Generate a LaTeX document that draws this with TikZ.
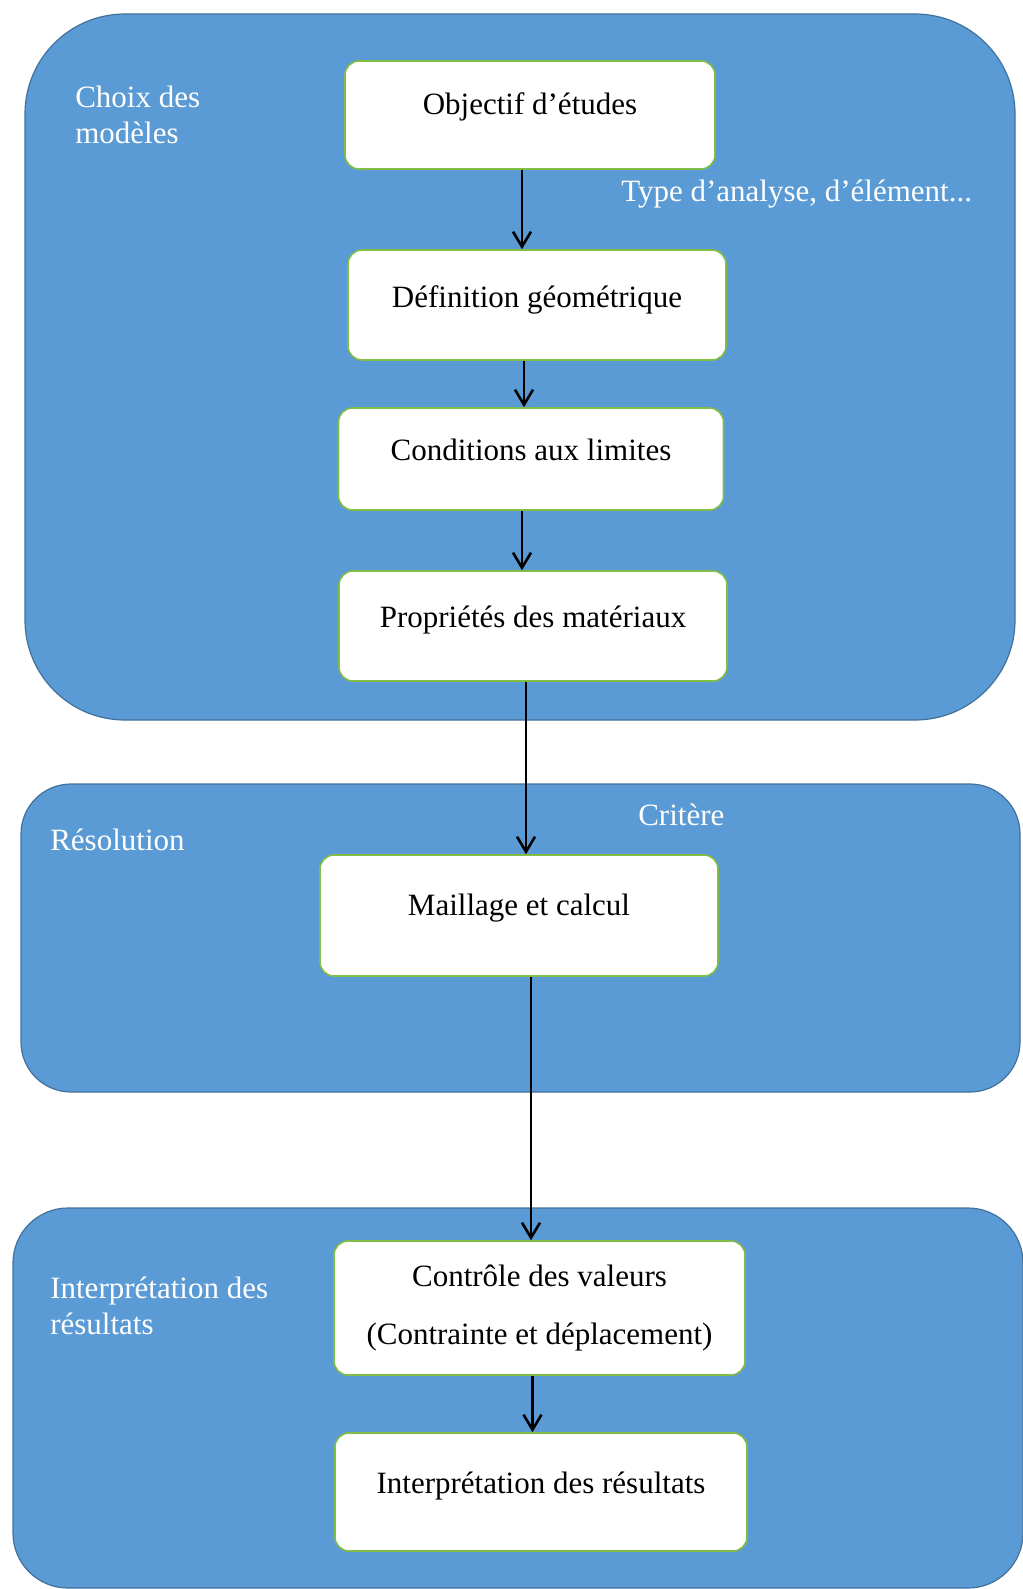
\documentclass[tikz,border=0pt]{standalone}
\usepackage{fontspec}
\setmainfont{Liberation Serif}
\usetikzlibrary{arrows.meta}

\definecolor{zoneblue}{RGB}{91,155,213}
\definecolor{zoneline}{RGB}{65,113,156}
\definecolor{boxgreen}{RGB}{130,190,70}

\begin{document}
\begin{tikzpicture}[x=1pt,y=-1pt,>={Straight Barb[length=15pt,width=18pt]},line width=2.6pt,
  main node/.style={draw=boxgreen,fill=white,line width=1.6pt,rounded corners=14pt,inner sep=0pt,text=black,font=\fontsize{31}{58}\selectfont},
  zone/.style={fill=zoneblue,draw=zoneline,line width=1.2pt},
  zone text/.style={text=white,inner sep=0pt,align=left,font=\fontsize{31}{36}\selectfont}]

  \useasboundingbox (0,0) rectangle (1022,1589);

  % les trois zones
  \draw[zone,rounded corners=100pt] (25,14) rectangle (1015,720);
  \draw[zone,rounded corners=50pt] (21,784) rectangle (1020,1092);
  \draw[zone,rounded corners=55pt] (13,1208) rectangle (1023,1588);

  \node[zone text,anchor=west] (c1) at (74,115) {Choix des\\modèles};
  \node[zone text,anchor=base west] (c2) at (620,202) {Type d’analyse, d’élément...};
  \node[zone text,anchor=base west] (c3) at (637,825) {Critère};
  \node[zone text,anchor=base west] (c4) at (49,850) {Résolution};
  \node[zone text,anchor=west] (c5) at (49,1306) {Interprétation des\\résultats};

  \node[main node,minimum width=370pt,text height=54pt,text depth=54pt] (1) at (530,115) {Objectif d’études};
  \node[main node,minimum width=378pt,text height=57pt,text depth=53pt] (2) at (537,305) {Définition géométrique};
  \node[main node,minimum width=385pt,text height=52pt,text depth=50pt] (3) at (531,459) {Conditions aux limites};
  \node[main node,minimum width=388pt,text height=56pt,text depth=54pt] (4) at (533,626) {Propriétés des matériaux};

  \node[main node,minimum width=398pt,text height=60pt,text depth=61pt] (5) at (519,915.5) {Maillage et calcul};

  \node[main node,minimum width=411pt,minimum height=134pt,align=center] (6) at (539.5,1308) {Contrôle des valeurs\\(Contrainte et déplacement)};
  \node[main node,minimum width=412pt,text height=60pt,text depth=58pt] (7) at (541,1492) {Interprétation des résultats};

\draw [->] ([xshift=-8pt]1.south) -- ([xshift=-8pt]1.south |- 2.north);
\draw [->] ([xshift=-13pt]2.south) -- ([xshift=-13pt]2.south |- 3.north);
\draw [->] ([xshift=-9pt]3.south) -- ([xshift=-9pt]3.south |- 4.north);
\draw [->] ([xshift=-7pt]4.south) -- ([xshift=-7pt]4.south |- 5.north);
\draw [->] ([xshift=12pt]5.south) -- ([xshift=12pt]5.south |- 6.north);
\draw [->] ([xshift=-7pt]6.south) -- ([xshift=-7pt]6.south |- 7.north);

\end{tikzpicture}
\end{document}
